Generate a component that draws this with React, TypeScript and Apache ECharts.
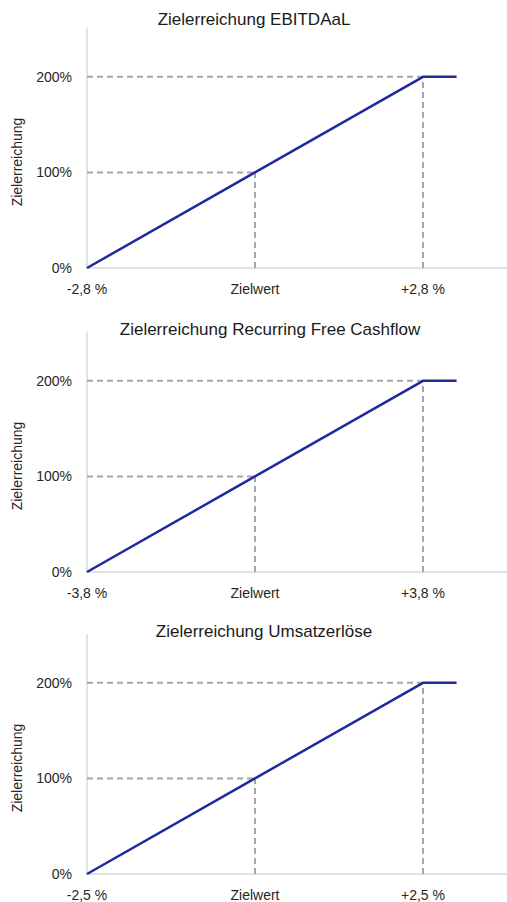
import React, { useEffect, useRef } from "react";
import * as echarts from "echarts";

const titles = [
  "Zielerreichung EBITDAaL",
  "Zielerreichung Recurring Free Cashflow",
  "Zielerreichung Umsatzerlöse",
];
const xTickLabels = [
  ["-2,8 %", "Zielwert", "+2,8 %"],
  ["-3,8 %", "Zielwert", "+3,8 %"],
  ["-2,5 %", "Zielwert", "+2,5 %"],
];
const tickPositions = [-1, 0, 1];
const lineX = [-1, 0, 1, 1.2];
const lineY = [0, 100, 200, 200];
const yAxisName = "Zielerreichung";

const panelTops = [29, 333, 635];
const panelHeight = 239;
const titleCenters = [
  [254, 21],
  [270, 331],
  [264, 633],
];

export default function App() {
  const ref = useRef<HTMLDivElement>(null);
  useEffect(() => {
    if (!ref.current) return;
    const chart = echarts.init(ref.current, undefined, { renderer: "svg" });
    const font = "Arial, 'Liberation Sans', sans-serif";
    const textColor = "#262626";
    const grids: any[] = [];
    const xAxes: any[] = [];
    const yAxes: any[] = [];
    const series: any[] = [];
    const titleOpts: any[] = [];
    const graphics: any[] = [];
    const dashStyle = { color: "#a6a6a6", width: 2, type: [6, 4] };

    for (let i = 0; i < 3; i++) {
      grids.push({ left: 87, width: 420, top: panelTops[i], height: panelHeight });
      const labels = xTickLabels[i];
      xAxes.push({
        gridIndex: i,
        type: "value",
        min: -1,
        max: 1.5,
        interval: 1,
        axisLine: { show: true, onZero: false, lineStyle: { color: "#d9d9d9", width: 1.5 } },
        axisTick: { show: false },
        splitLine: { show: false },
        axisLabel: {
          color: textColor,
          fontFamily: font,
          fontSize: 14,
          margin: 14,
          showMaxLabel: false,
          formatter: (v: number) => {
            const idx = tickPositions.indexOf(Math.round(v * 100) / 100);
            return idx >= 0 ? labels[idx] : "";
          },
        },
      });
      yAxes.push({
        gridIndex: i,
        type: "value",
        min: 0,
        max: 250,
        interval: 100,
        axisLine: { show: true, onZero: false, lineStyle: { color: "#d9d9d9", width: 1.5 } },
        axisTick: { show: false },
        splitLine: { show: false },
        axisLabel: {
          color: textColor,
          fontFamily: font,
          fontSize: 14,
          margin: 15,
          showMaxLabel: false,
          formatter: (v: number) => (v % 100 === 0 && v <= 200 ? v + "%" : ""),
        },
      });
      // dashed guide lines
      const guides = [
        [[lineX[0], lineY[2]], [lineX[2], lineY[2]]],
        [[lineX[0], lineY[1]], [lineX[1], lineY[1]]],
        [[lineX[1], lineY[0]], [lineX[1], lineY[1]]],
        [[lineX[2], lineY[0]], [lineX[2], lineY[2]]],
      ];
      guides.forEach((g) => {
        series.push({
          type: "line",
          xAxisIndex: i,
          yAxisIndex: i,
          data: g,
          symbol: "none",
          silent: true,
          lineStyle: dashStyle,
          z: 1,
        });
      });
      series.push({
        type: "line",
        xAxisIndex: i,
        yAxisIndex: i,
        data: lineX.map((x, k) => [x, lineY[k]]),
        symbol: "none",
        lineStyle: { color: "#1f2a9e", width: 2.5 },
        z: 3,
      });
      titleOpts.push({
        text: titles[i],
        left: titleCenters[i][0],
        top: titleCenters[i][1] - 10,
        textAlign: "center",
        padding: 0,
        textStyle: { fontFamily: font, fontSize: 17, fontWeight: "normal", color: "#1a1a1a" },
      });
      graphics.push({
        type: "text",
        x: 17,
        y: panelTops[i] + 133,
        rotation: Math.PI / 2,
        style: {
          text: yAxisName,
          fill: textColor,
          font: `14px ${font}`,
          textAlign: "center",
          textVerticalAlign: "middle",
        },
      });
    }

    chart.setOption({
      animation: false,
      backgroundColor: "#ffffff",
      title: titleOpts,
      grid: grids,
      xAxis: xAxes,
      yAxis: yAxes,
      series,
      graphic: graphics,
    });
    return () => chart.dispose();
  }, []);
  return (
    <div
      ref={ref}
      style={{ position: "fixed", left: 0, top: 0, width: 507, height: 902 }}
    />
  );
}
